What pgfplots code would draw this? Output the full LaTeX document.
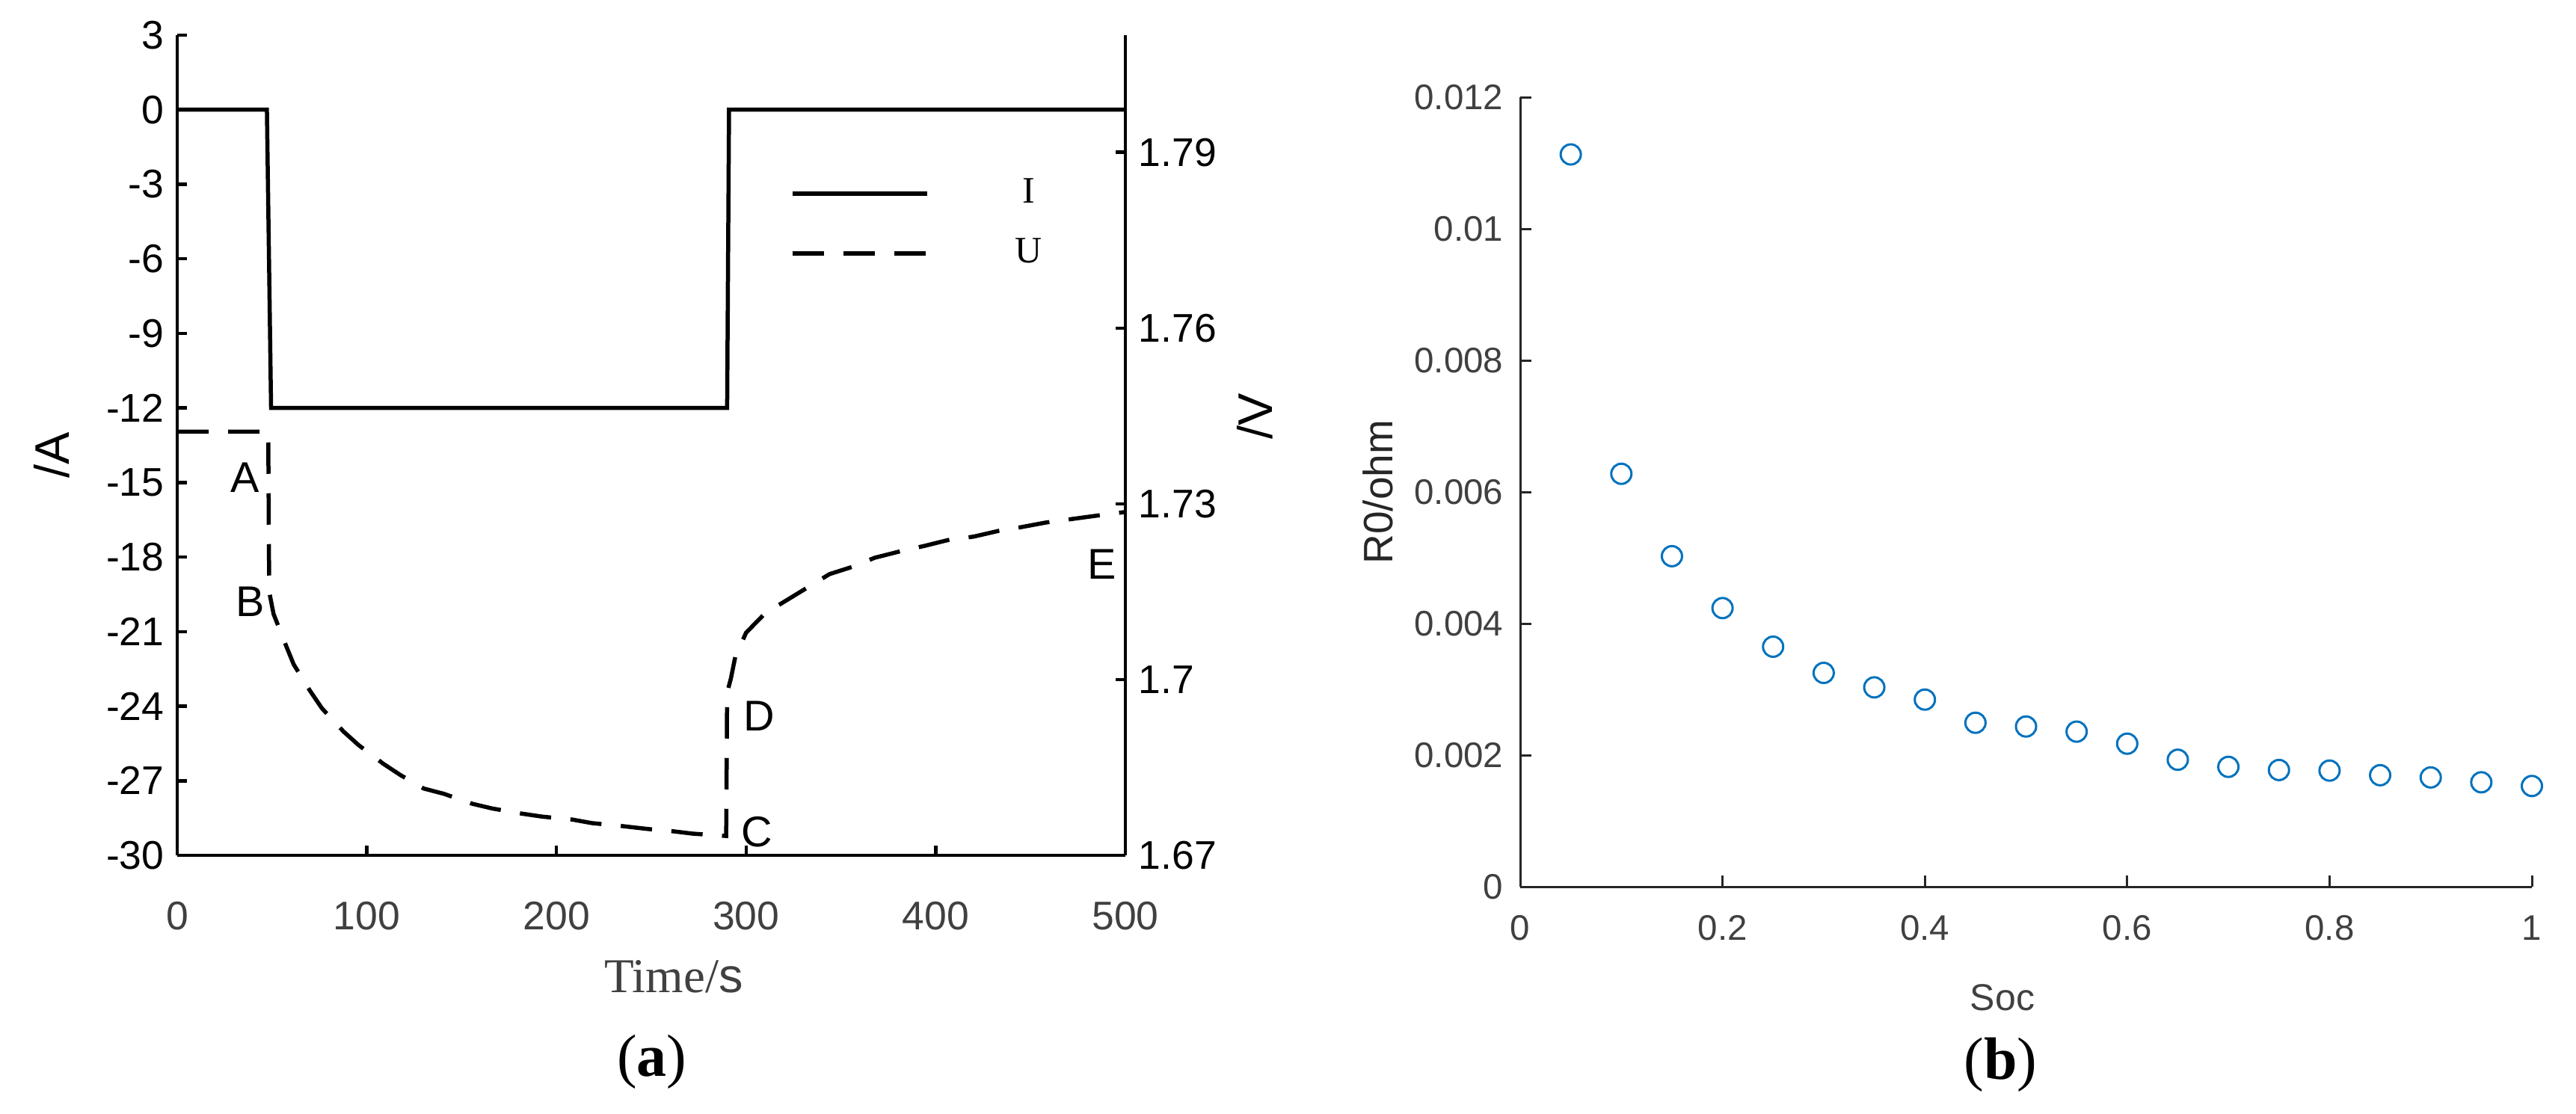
\documentclass[border=0pt]{standalone}
\usepackage{fontspec}
\setmainfont{Liberation Sans}
\newfontfamily\serifface{Liberation Serif}
\usepackage{pgfplots}
\pgfplotsset{compat=1.18}
\definecolor{ticktxt}{RGB}{64,64,64}
\definecolor{axisdark}{RGB}{38,38,38}
\definecolor{matblue}{RGB}{0,114,189}

\begin{document}
\begin{tikzpicture}
\useasboundingbox (0,0) rectangle (689pt,297.8pt);
% (a) current, left axis
\begin{axis}[
    at={(47.4pt,69pt)}, anchor=south west,
    scale only axis, width=253.6pt, height=219.4pt,
    xmin=0, xmax=500, ymin=-30, ymax=3,
    axis x line*=bottom, axis y line*=left,
    axis line style={-, line width=0.9pt, black},
    xtick={0,100,...,500}, ytick={-30,-27,...,3},
    tick align=inside, major tick length=2.6pt,
    tick style={line width=0.9pt, black},
    /pgf/number format/assume math mode=true,
    yticklabel style={font=\fontsize{10.7}{12}\selectfont, black},
    xticklabel style={font=\fontsize{10.7}{12}\selectfont, text=ticktxt, yshift=-8.8pt},
    clip=false,
    legend style={draw=none, fill=none, at={(axis description cs:0.646,0.833)}, anchor=north west,
        inner sep=0pt, row sep=5pt, font=\serifface\fontsize{10}{11}\selectfont,
        nodes={inner sep=1.5pt}},
    legend image code/.code={\draw[#1] (0pt,0pt) -- (36pt,0pt); \path[draw=none] (0pt,0pt) -- (58pt,0pt);},
]
\addplot[black, line width=1.1pt] coordinates {
    (0,0) (47.3,0) (49.5,-12) (290,-12) (291,0) (500,0)};
\addlegendentry{I}
\addlegendimage{black, line width=1.1pt, dash pattern=on 8.4pt off 5.2pt}
\addlegendentry{U}
\node[font=\fontsize{11.5}{13}\selectfont] at (axis cs:35.9,-14.8) {A};
\node[font=\fontsize{11.5}{13}\selectfont] at (axis cs:38.6,-19.8) {B};
\node[font=\fontsize{11.5}{13}\selectfont] at (axis cs:305.7,-29.06) {C};
\node[font=\fontsize{11.5}{13}\selectfont] at (axis cs:306.8,-24.4) {D};
\node[font=\fontsize{11.5}{13}\selectfont] at (axis cs:487.8,-18.3) {E};
\node[rotate=90, font=\fontsize{13}{15}\selectfont] at (axis description cs:-0.1325,0.4877) {/A};
\node[rotate=90, font=\fontsize{13}{15}\selectfont] at (axis description cs:1.1364,0.535) {/V};
\node[text=ticktxt, font=\fontsize{13}{15}\selectfont] at (axis description cs:0.5237,-0.1477) {{\serifface Time/}s};
\node[font=\serifface\fontsize{16}{18}\selectfont] at (axis description cs:0.5008,-0.2516) {(\textbf{a})};
\end{axis}
% (a) voltage, right axis
\begin{axis}[
    at={(47.4pt,69pt)}, anchor=south west,
    scale only axis, width=253.6pt, height=219.4pt,
    xmin=0, xmax=500, ymin=1.67, ymax=1.81,
    axis x line=none, axis y line*=right,
    axis line style={-, line width=0.9pt, black},
    ytick={1.67,1.70,1.73,1.76,1.79},
    yticklabels={1.67,1.7,1.73,1.76,1.79},
    tick align=inside, major tick length=2.6pt,
    tick style={line width=0.9pt, black},
    yticklabel style={font=\fontsize{10.7}{12}\selectfont, black},
]
\addplot[black, line width=1.1pt, dash pattern=on 8.4pt off 5.2pt] coordinates {
    (0,1.7423) (48,1.7423) (48.5,1.7150) (50.8,1.7112) (57,1.7061) (61.4,1.7026)
    (70,1.6981) (76.3,1.6951) (87.8,1.6911) (95.7,1.6888) (108.8,1.6856)
    (117.7,1.6837) (130,1.6814) (140.6,1.6805) (155.6,1.6788) (166,1.6780)
    (182,1.6771) (192.6,1.6766) (208.4,1.6761) (218.6,1.6755) (234.4,1.6750)
    (248,1.6745) (261.6,1.6741) (271.8,1.6737) (289.5,1.6733) (290,1.6978)
    (292,1.7002) (294.3,1.7039) (300,1.7080) (310,1.7113) (322.7,1.7138)
    (332.8,1.7158) (344,1.7180) (356.6,1.7193) (367.9,1.7208) (381.4,1.7219)
    (393.9,1.7228) (406.3,1.7238) (420,1.7244) (433.4,1.7254) (444.8,1.7260)
    (458,1.7268) (471.7,1.7274) (485.4,1.7280) (500,1.7286)};
\end{axis}
% (b) R0 vs SOC
\begin{axis}[
    at={(406.6pt,60.6pt)}, anchor=south west,
    scale only axis, width=270.6pt, height=211.2pt,
    xmin=0, xmax=1, ymin=0, ymax=0.012,
    axis x line*=bottom, axis y line*=left,
    axis line style={-, line width=0.6pt, axisdark},
    scaled x ticks=false, scaled y ticks=false,
    xtick={0,0.2,0.4,0.6,0.8,1}, xticklabels={0,0.2,0.4,0.6,0.8,1},
    ytick={0,0.002,0.004,0.006,0.008,0.01,0.012},
    yticklabels={0,0.002,0.004,0.006,0.008,0.01,0.012},
    tick align=inside, major tick length=3pt,
    tick style={line width=0.6pt, axisdark},
    xticklabel style={font=\fontsize{9.5}{11}\selectfont, text=ticktxt, yshift=-4.2pt},
    yticklabel style={font=\fontsize{9.5}{11}\selectfont, text=ticktxt, xshift=-1pt},
    clip=false,
]
\addplot[only marks, mark=o, mark size=2.7pt, mark options={line width=0.6pt, matblue}] coordinates {
    (0.05,0.01113) (0.10,0.006276) (0.15,0.005024) (0.20,0.004235) (0.25,0.003648)
    (0.30,0.003250) (0.35,0.003030) (0.40,0.002844) (0.45,0.002492) (0.50,0.002435)
    (0.55,0.002357) (0.60,0.002174) (0.65,0.001930) (0.70,0.001822) (0.75,0.001774)
    (0.80,0.001765) (0.85,0.001695) (0.90,0.001661) (0.95,0.001587) (1.00,0.001531)};
\node[rotate=90, text=axisdark, font=\fontsize{11}{13}\selectfont] at (axis description cs:-0.1404,0.5) {R0/ohm};
\node[text=ticktxt, font=\fontsize{10}{12}\selectfont] at (axis description cs:0.4767,-0.140) {Soc};
\node[font=\serifface\fontsize{16}{18}\selectfont] at (axis description cs:0.475,-0.2254) {(\textbf{b})};
\end{axis}
\end{tikzpicture}
\end{document}
